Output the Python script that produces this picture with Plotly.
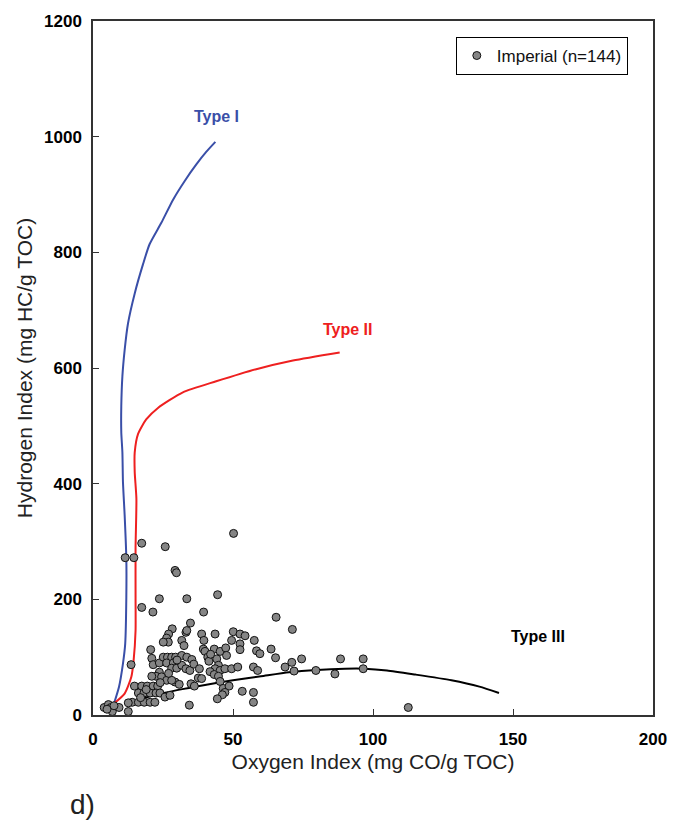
import plotly.graph_objects as go

# Rock-Eval pyrolysis samples: Oxygen Index (mg CO/g TOC) vs Hydrogen Index (mg HC/g TOC)
oi_values = [
    50.2, 17.4, 25.8, 11.5, 14.6, 29.3, 29.8, 23.7, 33.5, 44.5, 17.4, 21.4, 39.5, 34.8, 65.4, 71.2,
    4.0, 5.5, 6.4, 6.9, 9.3, 12.6, 7.5, 5.0,
    20.6, 28.3, 27.0, 26.3, 26.9, 25.1, 31.7, 32.5, 33.2, 21.0, 21.5, 23.7,
    25.1, 26.6, 28.1, 29.5, 31.7, 33.5, 26.3, 28.7, 28.1, 29.9, 31.7, 33.2,
    23.7, 22.5, 21.0, 24.5, 29.3, 30.8, 26.3, 28.1,
    14.8, 17.4, 19.4, 21.5, 23.1, 16.2, 18.2, 20.4, 22.5, 23.9,
    14.0, 16.2, 18.3, 20.4, 22.1, 25.7, 27.5, 12.6, 34.4, 13.6,
    33.5, 38.8, 43.6, 50.1, 52.5, 54.3, 39.6, 49.5, 52.5, 52.5,
    39.4, 40.0, 43.3, 45.4, 47.4, 47.7, 41.0, 41.4, 44.2, 44.8, 43.6, 45.4, 47.1, 49.5, 51.7,
    35.3, 34.6, 41.8, 43.3, 44.8, 45.4, 37.6, 38.8, 35.0, 36.2,
    46.5, 48.6, 47.1, 46.2, 44.4, 53.3, 57.3, 57.3, 57.3,
    57.6, 58.4, 59.6, 63.6, 65.2, 74.5, 71.0, 68.6, 71.8, 58.8,
    79.6, 86.4, 88.4, 96.5, 96.5, 112.6,
    19.0, 24.0, 30.0, 36.0, 42.0, 27.0, 38.0, 17.0,
]
hi_values = [
    314, 297, 291, 272, 272, 250, 246, 201, 201, 208, 186, 178, 178, 159, 169, 148,
    13, 18, 13, 6, 13, 6, 16, 10,
    113, 149, 140, 133, 126, 126, 129, 120, 143, 98, 87, 90,
    100, 100, 100, 100, 103, 100, 90, 90, 81, 81, 86, 80,
    74, 67, 67, 66, 57, 53, 60, 60,
    50, 50, 50, 50, 50, 38, 38, 38, 38, 38,
    22, 22, 22, 22, 22, 31, 34, 21, 17, 87,
    146, 140, 140, 144, 140, 137, 129, 129, 123, 113,
    114, 110, 114, 110, 116, 103, 100, 93, 97, 86, 80, 77, 80, 80, 83,
    96, 77, 75, 70, 67, 58, 64, 63, 54, 50,
    46, 50, 39, 35, 28, 41, 39, 22, 83,
    129, 111, 106, 114, 99, 97, 91, 83, 76, 77,
    77, 71, 97, 97, 80, 13,
    44, 56, 95, 88, 105, 72, 80, 30,
]

# Kerogen type evolution pathways
type1_oi = [7.5, 9.3, 10.7, 11.5, 11.9, 11.9, 11.3, 10.7, 10.5, 10.1, 10.1, 10.5, 11.3, 12.5,
            14.9, 17.9, 20.2, 24.4, 28.6, 32.7, 36.9, 40.5, 43.7]
type1_hi = [20, 49, 89, 123, 203, 271, 346, 403, 454, 489, 534, 586, 631, 677,
            729, 780, 814, 851, 891, 923, 952, 974, 991]

type2_oi = [7.5, 11.3, 13.7, 14.5, 15.2, 15.2, 15.2, 15.5, 14.9, 14.9, 16.1, 19.0, 23.2,
            32.1, 44.0, 58.3, 71.4, 88.1]
type2_hi = [20, 37, 66, 94, 146, 203, 289, 374, 420, 454, 486, 511, 531,
            558, 577, 598, 613, 627]

type3_oi = [14, 20, 30, 40, 50, 60, 70, 80, 90, 97, 105, 115, 128, 138, 145]
type3_hi = [20, 32, 43, 52, 60, 67, 74, 78, 80, 80, 77, 70, 60, 49, 38]

type_labels = ["Type I", "Type II", "Type III"]
type_label_oi = [44, 91, 159]
type_label_hi = [1035, 667, 135]
type_colors = ["#3a4fa8", "#ee2020", "#000000"]

x_ticks = [0, 50, 100, 150, 200]
y_ticks = [0, 200, 400, 600, 800, 1000, 1200]

font_family = "Liberation Sans, Arial, sans-serif"

fig = go.Figure()

for ox, hy, col in zip([type1_oi, type2_oi, type3_oi], [type1_hi, type2_hi, type3_hi], type_colors):
    fig.add_trace(go.Scatter(
        x=ox, y=hy, mode="lines", line=dict(color=col, width=2, shape="spline", smoothing=0.6),
        showlegend=False, hoverinfo="skip",
    ))

fig.add_trace(go.Scatter(
    x=oi_values, y=hi_values, mode="markers", name="Imperial (n=144)",
    marker=dict(size=8, color="#858585", line=dict(color="#111111", width=1)),
))

for lab, lx, ly, col in zip(type_labels, type_label_oi, type_label_hi, type_colors):
    fig.add_annotation(
        x=lx, y=ly, text=lab, showarrow=False,
        font=dict(family=font_family, size=16, color=col, weight="bold"),
    )

fig.add_annotation(
    xref="paper", yref="paper", x=-0.045, y=-0.129, xanchor="left", yanchor="middle",
    text="d)", showarrow=False,
    font=dict(family=font_family, size=28, color="#222222"),
)

axis_common = dict(
    showline=True, linecolor="#333333", linewidth=1.5, mirror=True,
    ticks="inside", ticklen=6, tickcolor="#333333", tickwidth=1,
    showgrid=False, zeroline=False,
    tickfont=dict(family=font_family, size=17, color="#000000", weight="bold"),
)

fig.update_layout(
    width=684, height=823,
    margin=dict(l=93, r=31, t=15, b=108),
    paper_bgcolor="white", plot_bgcolor="white",
    font=dict(family=font_family, color="#222222"),
    xaxis=dict(
        range=[0, 200], tickvals=x_ticks, ticklabelstandoff=8,
        title=dict(text="Oxygen Index (mg CO/g TOC)", font=dict(family=font_family, size=21, color="#222222"),
                   standoff=6),
        **axis_common,
    ),
    yaxis=dict(
        range=[0, 1200], tickvals=y_ticks, ticklabelstandoff=6,
        title=dict(text="Hydrogen Index (mg HC/g TOC)", font=dict(family=font_family, size=21, color="#222222"),
                   standoff=6),
        **axis_common,
    ),
    legend=dict(
        x=0.955, y=0.977, xanchor="right", yanchor="top",
        bordercolor="#000000", borderwidth=1, bgcolor="white",
        font=dict(family=font_family, size=17, color="#111111"),
        itemsizing="trace", tracegroupgap=0, itemwidth=30,
    ),
)

fig.write_html("out.html")
